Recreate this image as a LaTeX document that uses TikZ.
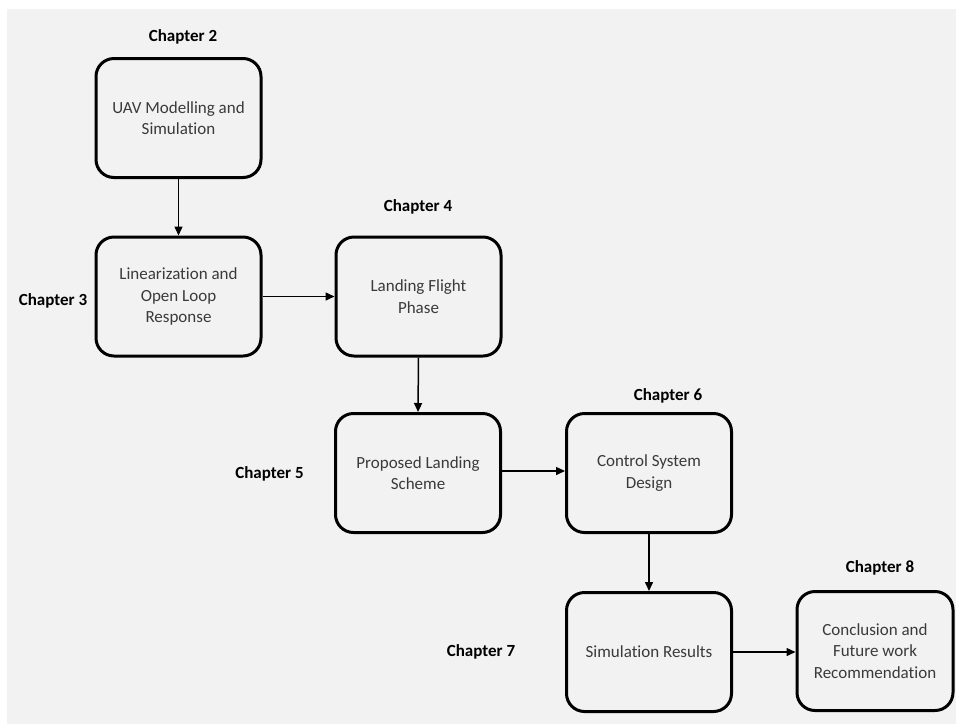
\documentclass[tikz,border=0pt]{standalone}
\usepackage{fontspec}
\setmainfont{Carlito}[Ligatures=NoCommon]
\usetikzlibrary{arrows.meta}
\definecolor{bggray}{HTML}{F2F2F2}
\definecolor{boxtext}{HTML}{3A3A3A}
\begin{document}
\begin{tikzpicture}[x=1pt,y=-1pt,
  chapbox/.style={draw=black, line width=3pt, rounded corners=18pt,
    minimum width=165pt, minimum height=119pt, inner sep=0pt,
    align=center, text=boxtext, font=\fontsize{17}{21.5}\selectfont},
  chaplabel/.style={font=\fontsize{17}{21}\selectfont\bfseries, text=black, inner sep=0pt},
  flow/.style={line width=1.5pt, -{Triangle[length=9pt,width=8pt]}}]
\useasboundingbox (0,0) rectangle (956,724);
\fill[white] (0,0) rectangle (956,724);
\fill[bggray] (7,9) rectangle (956,724);

\node[chapbox] (uav) at (178.5,118) {UAV Modelling and\\Simulation};
\node[chapbox] (lin) at (178.5,296.5) {Linearization and\\Open Loop\\Response};
\node[chapbox] (land) at (418.5,296.5) {Landing Flight\\Phase};
\node[chapbox] (prop) at (418,473) {Proposed Landing\\Scheme};
\node[chapbox] (ctrl) at (649,473) {Control System\\Design};
\node[chapbox] (sim) at (649,652) {Simulation Results};
\node[chapbox, minimum width=156pt] (conc) at (875,651) {Conclusion and\\Future work\\Recommendation};

\node[chaplabel] (c2) at (183,37) {Chapter 2};
\node[chaplabel] (c3) at (53,301) {Chapter 3};
\node[chaplabel] (c4) at (418,207) {Chapter 4};
\node[chaplabel] (c5) at (269.5,474) {Chapter 5};
\node[chaplabel] (c6) at (668,396) {Chapter 6};
\node[chaplabel] (c7) at (481,652) {Chapter 7};
\node[chaplabel] (c8) at (880,568) {Chapter 8};

\draw[flow] (uav.south) -- (lin.north);
\draw[flow] (lin.east) -- (land.west);
\draw[flow] (land.south) -- (prop.north);
\draw[flow] ([yshift=2pt]prop.east) -- ([yshift=2pt]ctrl.west);
\draw[flow] (ctrl.south) -- (sim.north);
\draw[flow] (sim.east) -- (sim.east -| conc.west);
\end{tikzpicture}
\end{document}
